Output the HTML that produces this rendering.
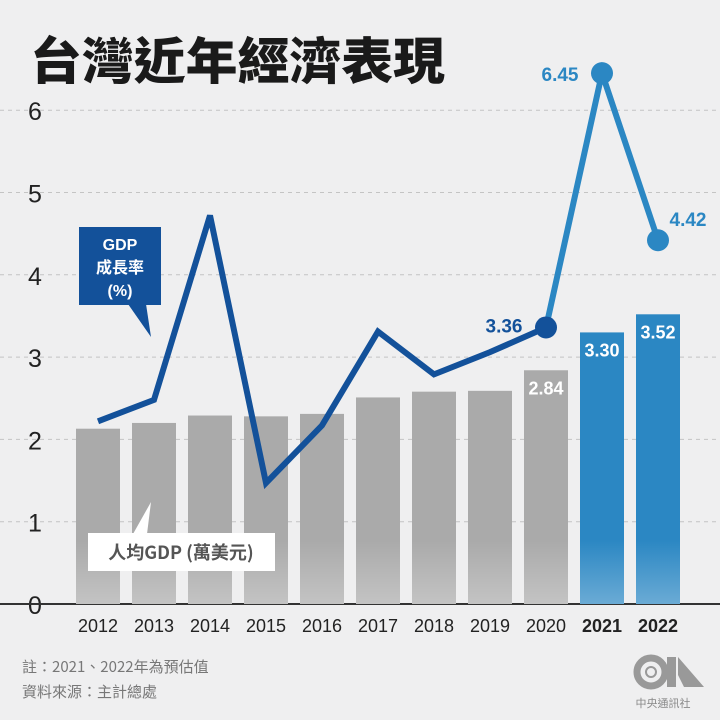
<!DOCTYPE html>
<html><head><meta charset="utf-8">
<style>
body{margin:0;background:#efeff0;}
svg{display:block;font-family:"Liberation Sans","Noto Sans CJK TC",sans-serif;}
</style></head>
<body>
<svg id="chart" width="720" height="720" viewBox="0 0 720 720">
<rect width="720" height="720" fill="#efeff0"/>
<text x="30" y="79" font-size="50" font-weight="900" fill="#1a1a1a" textLength="415" lengthAdjust="spacingAndGlyphs" style="font-family:'Noto Sans CJK TC',sans-serif">台灣近年經濟表現</text>
<defs>
<linearGradient id="fade" x1="0" y1="0" x2="0" y2="1">
<stop offset="0" stop-color="#fff" stop-opacity="0"/>
<stop offset="1" stop-color="#fff" stop-opacity="0.3"/>
</linearGradient>
</defs>
<g id="grid"></g>
<g id="bars"></g>
<g id="lines"></g>
<g id="labels"></g>
<g>
<rect x="79" y="227" width="82" height="78" fill="#13519a"/>
<polygon points="128,304 146,304 151,337" fill="#13519a"/>
<text x="120" y="250" font-size="16" font-weight="bold" fill="#fff" text-anchor="middle">GDP</text>
<text x="120" y="273" font-size="16" font-weight="bold" fill="#fff" text-anchor="middle" style="font-family:'Noto Sans CJK TC',sans-serif">成長率</text>
<text x="120" y="296" font-size="16" font-weight="bold" fill="#fff" text-anchor="middle">(%)</text>
</g>
<g>
<polygon points="133,534 147,534 151,502" fill="#fff"/>
<rect x="88" y="533" width="187" height="38" fill="#fff"/>
<text x="181" y="559" font-size="18" font-weight="bold" fill="#555" text-anchor="middle" style="font-family:'Noto Sans CJK TC',sans-serif">人均GDP (萬美元)</text>
</g>
<text x="22" y="672" font-size="15" fill="#777" style="font-family:'Noto Sans CJK TC',sans-serif">註：2021、2022年為預估值</text>
<text x="22" y="697" font-size="15" fill="#777" style="font-family:'Noto Sans CJK TC',sans-serif">資料來源：主計總處</text>
<g>
<circle cx="651" cy="672" r="14" fill="none" stroke="#999" stroke-width="7"/>
<circle cx="651" cy="672" r="5" fill="none" stroke="#999" stroke-width="2"/>
<path d="M667 687 L667 657 L676 657 L676 687 Z M678 657 L704 687 L684 687 L678 675 Z" fill="#999"/>
<text x="663" y="707" font-size="11" fill="#888" text-anchor="middle" style="font-family:'Noto Sans CJK TC',sans-serif">中央通訊社</text>
</g>
</svg>
<script>
const years=['2012','2013','2014','2015','2016','2017','2018','2019','2020','2021','2022'];
const gdpPerCapita=[2.13,2.20,2.29,2.28,2.31,2.51,2.58,2.59,2.84,3.30,3.52];
const gdpGrowth=[2.22,2.48,4.72,1.47,2.17,3.31,2.79,3.06,3.36,6.45,4.42];
const yTicks=[0,1,2,3,4,5,6];
const NS='http://www.w3.org/2000/svg';
function y(v){return 604-v*82.3;}
function x(i){return 98+i*56;}
function mk(tag,attrs,parent,text){const e=document.createElementNS(NS,tag);for(const k in attrs)e.setAttribute(k,attrs[k]);if(text!==undefined)e.textContent=text;document.getElementById(parent).appendChild(e);return e;}
yTicks.forEach(t=>{
  if(t>0){const g=mk('line',{x1:0,x2:720,y1:y(t),y2:y(t),stroke:'#c4c4c4','stroke-dasharray':'4 4'},'grid');
  
  }
  const tl=mk('text',{x:35,y:y(t)+10,'font-size':25,fill:'#222','text-anchor':'middle'},'grid',String(t));
  
  
});
years.forEach((yr,i)=>{
  const proj=i>=9;
  const b=mk('rect',{x:x(i)-22,y:y(gdpPerCapita[i]),width:44,height:604-y(gdpPerCapita[i]),fill:proj?'#2b87c3':'#aaaaaa'},'bars');
  
  
  const f=mk('rect',{x:x(i)-22,y:540,width:44,height:64,fill:'url(#fade)'},'bars');
  
  
  const xl=mk('text',{x:x(i),y:632,'font-size':18,fill:'#222','text-anchor':'middle','font-weight':proj?'bold':'normal'},'labels',yr);
  
  
  if(i>=8){
    const vl=mk('text',{x:x(i),y:y(gdpPerCapita[i])+24,'font-size':18,'font-weight':'bold',fill:'#fff','text-anchor':'middle'},'labels',gdpPerCapita[i].toFixed(2));
    
    
  }
});
const ax=mk('line',{x1:0,x2:720,y1:604,y2:604,stroke:'#333','stroke-width':2},'grid');


const p1=gdpGrowth.slice(0,9).map((v,i)=>x(i)+','+y(v)).join(' ');
const l1=mk('polyline',{points:p1,fill:'none',stroke:'#13519a','stroke-width':6,'stroke-linejoin':'miter'},'lines');


const p2=[8,9,10].map(i=>x(i)+','+y(gdpGrowth[i])).join(' ');
const l2=mk('polyline',{points:p2,fill:'none',stroke:'#2b87c3','stroke-width':6},'lines');


[8,9,10].forEach(i=>{
  const c=mk('circle',{cx:x(i),cy:y(gdpGrowth[i]),r:11,fill:i==8?'#13519a':'#2b87c3'},'lines');
  
  
});
const gl=[[8,-42,5,'#13519a'],[9,-42,8,'#2b87c3'],[10,30,-14,'#2b87c3']];
gl.forEach(([i,dx,dy,col])=>{
  const t=mk('text',{x:x(i)+dx,y:y(gdpGrowth[i])+dy,'font-size':19,'font-weight':'bold',fill:col,'text-anchor':'middle'},'labels',gdpGrowth[i].toFixed(2));
  
  
});
</script>
</body></html>
